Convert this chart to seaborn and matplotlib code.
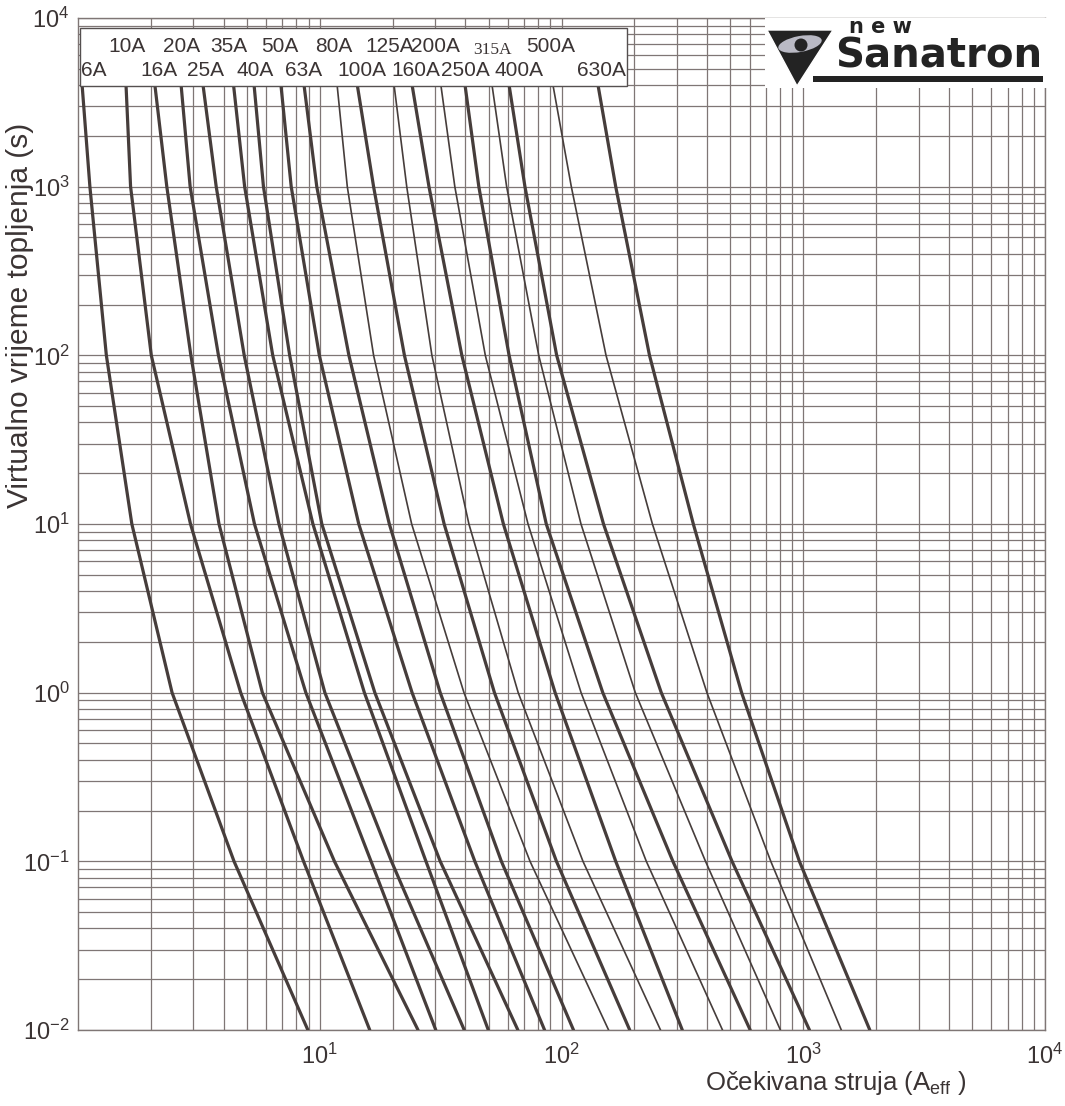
import numpy as np
import pandas as pd
import matplotlib
matplotlib.use("Agg")
import matplotlib.pyplot as plt
import seaborn as sns
from matplotlib.patches import Rectangle, Polygon, Ellipse
from matplotlib.ticker import LogLocator, NullFormatter

# ── data: melting current (A) of each fuse at fixed melting times ──
ratings = ["6A", "10A", "16A", "20A", "25A", "35A", "40A", "50A", "63A", "80A",
           "100A", "125A", "160A", "200A", "250A", "315A", "400A", "500A", "630A"]
weights = ["thick", "thick", "thick", "thick", "thick", "thick", "thick", "thick", "thick", "thin",
           "thick", "thin", "thick", "thin", "thick", "thin", "thick", "thin", "thick"]
times = [4000, 1000, 100, 10, 1, 0.1, 0.01]

i_t4000 = [1.04, 1.58, 2.08, 2.67, 3.29, 4.40, 5.35, 6.91, 8.61, 11.8,
           14.3, 20.3, 24.1, 31.7, 39.9, 51.6, 60.7, 92.2, 141.6]
i_t1000 = [1.12, 1.65, 2.33, 2.91, 3.73, 4.89, 5.85, 7.62, 9.72, 13.0,
           16.7, 22.9, 28.3, 36.2, 45.5, 59.3, 70.6, 109.8, 167.6]
i_t100 = [1.31, 2.01, 2.93, 3.81, 4.87, 6.39, 7.51, 9.96, 13.2, 16.7,
          22.4, 29.1, 38.7, 48.4, 60.7, 80.5, 95.5, 152.8, 231.2]
i_t10 = [1.67, 2.92, 3.83, 5.37, 6.78, 9.37, 10.2, 14.5, 19.4, 24.0,
         32.7, 41.4, 57.5, 72.7, 86.5, 120.4, 149.2, 237.7, 351.0]
i_t1 = [2.45, 4.71, 5.79, 8.76, 10.5, 15.3, 16.9, 24.1, 31.5, 39.5,
        52.8, 66.2, 94.1, 120.5, 148.2, 202.0, 258.7, 399.6, 555.9]
i_t01 = [4.42, 8.57, 11.5, 16.3, 19.8, 27.5, 31.5, 43.8, 56.4, 74.1,
         95.3, 122.7, 167.6, 224.3, 288.9, 394.2, 507.5, 734.0, 964.0]
i_t001 = [8.93, 16.1, 25.5, 30.2, 39.6, 49.8, 66.0, 85.1, 112.1, 156.6,
          191.5, 256.8, 316.0, 463.4, 603.3, 804.4, 1061.0, 1437.0, 1885.0]

# label box text (two staggered rows)
top_row = ["10A", "20A", "35A", "50A", "80A", "125A", "200A", "315A", "500A"]
bottom_row = ["6A", "16A", "25A", "40A", "63A", "100A", "160A", "250A", "400A", "630A"]

CURVE = "#463d3b"
GRID = "#7f7675"
TEXT = "#3b3434"
W, H = 1065, 1106


def px(x, y):
    return x / W, 1 - y / H


levels = [i_t4000, i_t1000, i_t100, i_t10, i_t1, i_t01, i_t001]
rows = []
for k, r in enumerate(ratings):
    for t, lev in zip(times, levels):
        rows.append({"rating": r, "t": t, "I": lev[k], "weight": weights[k]})
df = pd.DataFrame(rows)

sns.set_theme(style="white")
plt.rcParams["font.family"] = ["Liberation Sans", "DejaVu Sans"]
plt.rcParams["mathtext.fontset"] = "custom"
plt.rcParams["mathtext.rm"] = "Liberation Sans"
plt.rcParams["mathtext.it"] = "Liberation Sans:italic"

fig = plt.figure(figsize=(W / 100, H / 100), dpi=100)
ax = fig.add_axes([78 / W, 1 - 1030 / H, 967 / W, 1012 / H])
ax.set_xscale("log")
ax.set_yscale("log")

sns.lineplot(data=df, x="I", y="t", units="rating", estimator=None, sort=False,
             size="weight", sizes={"thick": 2.3, "thin": 1.2}, color=CURVE,
             legend=False, ax=ax, zorder=3)

ax.set_xlim(1, 1e4)
ax.set_ylim(1e-2, 1e4)
ax.set_xticks([10, 100, 1000, 10000])
ax.set_xticklabels([r"$10^{1}$", r"$10^{2}$", r"$10^{3}$", r"$10^{4}$"])
ax.set_yticks([1e-2, 1e-1, 1, 10, 100, 1000, 1e4])
ax.set_yticklabels([r"$10^{-2}$", r"$10^{-1}$", r"$10^{0}$", r"$10^{1}$",
                    r"$10^{2}$", r"$10^{3}$", r"$10^{4}$"])
for axis in (ax.xaxis, ax.yaxis):
    axis.set_minor_locator(LogLocator(base=10, subs=np.arange(2, 10), numticks=20))
    axis.set_minor_formatter(NullFormatter())
ax.grid(which="both", color=GRID, linewidth=0.9)
ax.tick_params(which="both", length=0, labelsize=17, labelcolor=TEXT)
ax.tick_params(axis="x", pad=10)
ax.tick_params(axis="y", pad=6)
for s in ax.spines.values():
    s.set_color(GRID)
    s.set_linewidth(1.0)
ax.set_xlabel("")
ax.set_ylabel("")

fig.text(*px(836, 1083), r"Očekivana struja (A$_{\rm eff}$ )", fontsize=18.5,
         color=TEXT, ha="center", va="center")
fig.text(*px(20, 315), "Virtualno vrijeme topljenja (s)", fontsize=21.5,
         color=TEXT, ha="center", va="center", rotation=90)

# ── rating label box ──
bx0, by0 = px(80, 86)
bx1, by1 = px(627, 28)
fig.add_artist(Rectangle((bx0, by0), bx1 - bx0, by1 - by0, transform=fig.transFigure,
                         facecolor="white", edgecolor="#555050", linewidth=1.0, zorder=5))
top_x = [127, 182, 229, 280, 334, 390, 435, 492, 551]
bot_x = [94, 159, 205, 255, 304, 362, 416, 465, 519, 601]
for lab, x in zip(top_row, top_x):
    if lab == "315A":
        fig.text(*px(x, 50), lab, fontsize=12.5, family="Liberation Serif",
                 color=TEXT, ha="center", va="center", zorder=6)
    else:
        fig.text(*px(x, 46), lab, fontsize=15, color=TEXT,
                 ha="center", va="center", zorder=6)
for lab, x in zip(bottom_row, bot_x):
    fig.text(*px(x, 70), lab, fontsize=15, color=TEXT,
             ha="center", va="center", zorder=6)

# ── logo ──
lx0, ly0 = px(765, 88)
lx1, ly1 = px(1047, 18)
fig.add_artist(Rectangle((lx0, ly0), lx1 - lx0, ly1 - ly0, transform=fig.transFigure,
                         facecolor="white", edgecolor="none", zorder=5))
fig.add_artist(Polygon([px(767, 30), px(833, 30), px(797, 86)], closed=True,
                       transform=fig.transFigure, facecolor="#232323", zorder=6))
fig.add_artist(Ellipse(px(800, 44), 44 / W, 16 / H, angle=10, transform=fig.transFigure,
                       facecolor="#b9b9c4", edgecolor="none", zorder=7))
fig.add_artist(Ellipse(px(801, 45), 13 / W, 13 / H, transform=fig.transFigure,
                       facecolor="#232323", edgecolor="none", zorder=8))
fig.add_artist(Rectangle(px(813, 82), 230 / W, 6 / H, transform=fig.transFigure,
                         facecolor="#232323", edgecolor="none", zorder=6))
fig.text(*px(835, 68), "Sanatron", fontsize=29, fontweight="bold", family="DejaVu Sans",
         color="#232323", ha="left", va="baseline", zorder=7)
fig.text(*px(880, 33), "n e w", fontsize=15, fontweight="bold", family="DejaVu Sans",
         color="#232323", ha="center", va="baseline", zorder=7)

fig.savefig("out.png", dpi=100, facecolor="white")
